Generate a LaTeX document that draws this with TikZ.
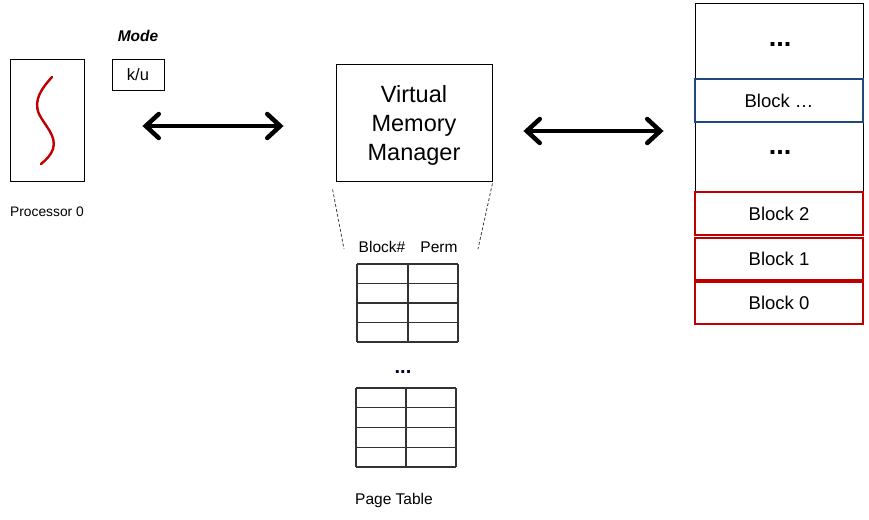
\documentclass[tikz,border=0pt]{standalone}
\usepackage{fontspec}
\setmainfont{Liberation Sans}
\usetikzlibrary{arrows.meta,shadows}
\definecolor{blockred}{RGB}{192,0,0}
\definecolor{blockblue}{RGB}{31,73,125}
\begin{document}
\begin{tikzpicture}[x=1pt,y=-1pt,
	box/.style={draw=black,line width=0.9pt,fill=white,inner sep=0pt},
	memblock/.style={box,minimum width=168pt,line width=1.8pt,drop shadow={opacity=0.25,shadow xshift=1.2pt,shadow yshift=-1.2pt},font=\fontsize{18.5}{21}\selectfont},
	conn/.style={line width=4.5pt,line cap=round,{Straight Barb[length=13pt,width=24pt,line cap=round]}-{Straight Barb[length=13pt,width=24pt,line cap=round]}},
	gridline/.style={line width=1.2pt,draw=black!80},
	label/.style={inner sep=0pt,align=center}]
	\useasboundingbox (0,0) rectangle (869,519);
		\node[box,minimum width=74pt,minimum height=122pt] (proc) at (47,120) {};
		\draw[blockred,line width=2.4pt,line cap=round] (52,77) .. controls (42,88) and (33,100) .. (39,114) .. controls (45,126) and (57,136) .. (53,149) .. controls (51,155) and (46,160) .. (41,164);
		\node[label,font=\fontsize{13.8}{16}\selectfont] (proclabel) at (47,212) {Processor 0};
		\node[label,font=\fontsize{15.5}{17}\selectfont\bfseries\itshape] (mode) at (138,36) {Mode};
		\node[box,minimum width=52pt,minimum height=31pt,font=\fontsize{16.5}{18}\selectfont] (ku) at (138,74.5) {k/u};
		\node[box,minimum width=156pt,minimum height=117pt,text depth=0pt,font=\fontsize{23.5}{29}\selectfont] (vmm) at (414,122.5) {};
		\node[label,font=\fontsize{23.5}{29}\selectfont] (vmmtext) at (414,125.5) {Virtual\\Memory\\Manager};
		\node[box,minimum width=168pt,minimum height=189pt] (mem) at (779,97.5) {};
		\node[label,font=\fontsize{27}{29}\selectfont\bfseries] (topdots) at (780,44) {...};
		\node[memblock,draw=blockblue,line width=1.5pt,minimum height=43pt] (blockn) at (779,100.5) {Block \dots};
		\node[label,font=\fontsize{27}{29}\selectfont\bfseries] (middots) at (780,152) {...};
		\node[memblock,draw=blockred,minimum height=43pt] (block2) at (779,213.5) {Block 2};
		\node[memblock,draw=blockred,minimum height=42pt] (block1) at (779,259) {Block 1};
		\node[memblock,draw=blockred,minimum height=42pt] (block0) at (779,303) {Block 0};
		\draw[conn,shorten <=58pt,shorten >=52pt] (proc.east |- 0,126) -- (vmm.west |- 0,126);
		\draw[conn,shorten <=31pt,shorten >=31pt] (vmm.east |- 0,131) -- (mem.west |- 0,131);
		\coordinate (dashl) at (344,249);
		\coordinate (dashr) at (478,249);
		\draw[dashed,line width=0.8pt,draw=black!75,dash pattern=on 3pt off 2pt] ([xshift=-3pt,yshift=-8pt]vmm.south west) -- (dashl);
		\draw[dashed,line width=0.8pt,draw=black!75,dash pattern=on 3pt off 2pt] ([yshift=-2pt]vmm.south east) -- (dashr);
		\node[label,font=\fontsize{15.5}{17}\selectfont] (blockno) at (382,247) {Block\#};
		\node[label,font=\fontsize{15.5}{17}\selectfont] (perm) at (439,247) {Perm};
		\foreach \y in {264,283.5,303,322.5,342}
			\draw[gridline] (357,\y) -- (458,\y);
		\foreach \x in {357,408,458}
			\draw[gridline] (\x,264) -- (\x,342);
		\node[label,font=\fontsize{20}{22}\selectfont\bfseries,text=black!80!blue] (tabledots) at (403,372) {...};
		\foreach \y in {388,407.75,427.5,447.25,467}
			\draw[gridline] (356,\y) -- (456,\y);
		\foreach \x in {356,406,456}
			\draw[gridline] (\x,388) -- (\x,467);
		\node[label,font=\fontsize{15.5}{17}\selectfont] (pagetable) at (394,500) {Page Table};
	\end{tikzpicture}
\end{document}
